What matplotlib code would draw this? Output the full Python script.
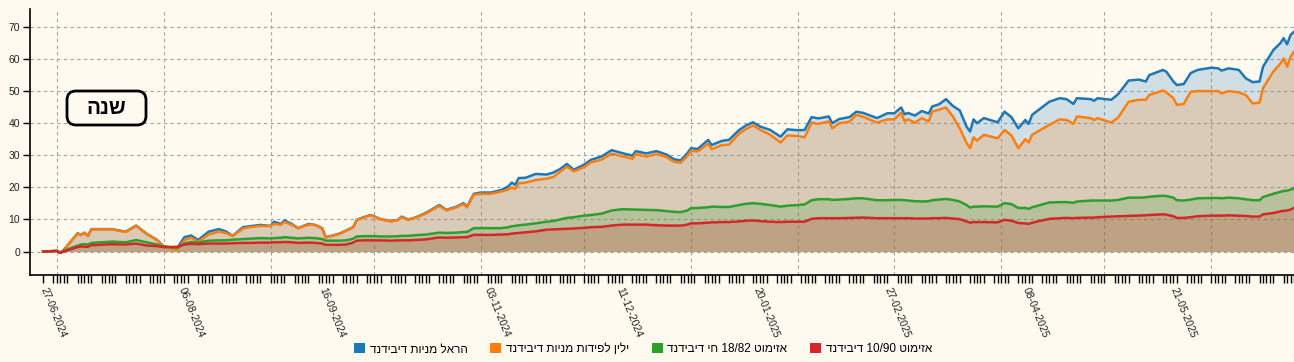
import matplotlib
matplotlib.use('Agg')
import matplotlib.pyplot as plt
import matplotlib.patches as mpatches
import matplotlib.dates as mdates
from matplotlib.ticker import FixedLocator
from matplotlib.transforms import IdentityTransform
import pandas as pd

plt.rcParams['font.family'] = ['Liberation Sans', 'DejaVu Sans']

# ---------------- data ----------------
dates = [
    "2024-06-27", "2024-07-01", "2024-07-02", "2024-07-03", "2024-07-07", "2024-07-08", "2024-07-09", "2024-07-10", "2024-07-11", "2024-07-17",
    "2024-07-21", "2024-07-24", "2024-07-27", "2024-07-30", "2024-08-01", "2024-08-03", "2024-08-05", "2024-08-07", "2024-08-09", "2024-08-11",
    "2024-08-14", "2024-08-17", "2024-08-19", "2024-08-21", "2024-08-24", "2024-08-26", "2024-08-29", "2024-09-01", "2024-09-02", "2024-09-04",
    "2024-09-05", "2024-09-07", "2024-09-09", "2024-09-12", "2024-09-14", "2024-09-16", "2024-09-17", "2024-09-19", "2024-09-21", "2024-09-23",
    "2024-09-25", "2024-09-26", "2024-09-28", "2024-09-30", "2024-10-01", "2024-10-03", "2024-10-06", "2024-10-08", "2024-10-09", "2024-10-11",
    "2024-10-13", "2024-10-16", "2024-10-20", "2024-10-22", "2024-10-25", "2024-10-27", "2024-10-28", "2024-10-30", "2024-11-01", "2024-11-04",
    "2024-11-07", "2024-11-09", "2024-11-10", "2024-11-11", "2024-11-12", "2024-11-14", "2024-11-17", "2024-11-20", "2024-11-22", "2024-11-24",
    "2024-11-26", "2024-11-28", "2024-12-01", "2024-12-03", "2024-12-06", "2024-12-09", "2024-12-12", "2024-12-15", "2024-12-16", "2024-12-19",
    "2024-12-22", "2024-12-25", "2024-12-27", "2024-12-29", "2024-12-31", "2025-01-01", "2025-01-03", "2025-01-06", "2025-01-07", "2025-01-10",
    "2025-01-12", "2025-01-15", "2025-01-17", "2025-01-19", "2025-01-21", "2025-01-24", "2025-01-27", "2025-01-29", "2025-02-01", "2025-02-03",
    "2025-02-05", "2025-02-07", "2025-02-10", "2025-02-11", "2025-02-13", "2025-02-16", "2025-02-18", "2025-02-20", "2025-02-24", "2025-02-27",
    "2025-03-01", "2025-03-03", "2025-03-04", "2025-03-05", "2025-03-07", "2025-03-09", "2025-03-11", "2025-03-12", "2025-03-14", "2025-03-16",
    "2025-03-18", "2025-03-20", "2025-03-22", "2025-03-23", "2025-03-24", "2025-03-25", "2025-03-27", "2025-03-31", "2025-04-02", "2025-04-04",
    "2025-04-06", "2025-04-08", "2025-04-09", "2025-04-10", "2025-04-15", "2025-04-18", "2025-04-20", "2025-04-22", "2025-04-23", "2025-04-27",
    "2025-04-28", "2025-04-29", "2025-05-03", "2025-05-05", "2025-05-08", "2025-05-11", "2025-05-13", "2025-05-14", "2025-05-18", "2025-05-19",
    "2025-05-21", "2025-05-22", "2025-05-24", "2025-05-26", "2025-05-28", "2025-06-01", "2025-06-03", "2025-06-04", "2025-06-06", "2025-06-09",
    "2025-06-11", "2025-06-13", "2025-06-15", "2025-06-16", "2025-06-19", "2025-06-21", "2025-06-22", "2025-06-23", "2025-06-24", "2025-06-25",
]

harel = [
    0, 0.2, -0.4, 0.5, 5.7, 5.2, 5.9, 4.9, 7.0, 7.0,
    6.2, 8.1, 5.6, 3.7, 1.6, 1.3, 1.2, 4.5, 5.0, 3.6,
    6.2, 7.0, 6.3, 4.9, 7.6, 7.9, 8.3, 8.0, 9.3, 8.6,
    9.7, 8.7, 7.3, 8.6, 8.3, 7.3, 4.5, 5.0, 5.6, 6.6,
    7.6, 9.9, 10.7, 11.4, 11.0, 10.1, 9.5, 9.9, 10.9, 10.0,
    10.6, 12.0, 14.5, 13.0, 14.0, 15.1, 14.0, 18.0, 18.4, 18.4,
    19.2, 20.3, 21.5, 20.8, 22.9, 23.0, 24.2, 24.0, 24.6, 25.7,
    27.3, 25.5, 27.1, 28.6, 29.6, 31.6, 30.7, 29.9, 31.3, 30.6,
    31.3, 30.2, 28.8, 28.4, 30.7, 32.2, 32.0, 34.8, 33.2, 34.5,
    34.8, 37.9, 39.3, 40.3, 39.0, 37.9, 35.8, 38.1, 37.8, 37.9,
    41.9, 41.5, 42.1, 40.0, 41.3, 41.9, 43.6, 43.2, 41.6, 43.1,
    43.1, 44.9, 42.8, 43.2, 42.4, 43.8, 43.0, 45.2, 45.9, 47.5,
    45.4, 44.0, 38.9, 37.4, 41.2, 40.0, 41.6, 40.3, 43.6, 41.9,
    38.4, 41.0, 39.8, 42.6, 46.7, 47.8, 47.5, 46.0, 47.8, 47.5,
    47.0, 47.8, 47.3, 49.1, 53.3, 53.6, 53.0, 55.0, 56.6, 56.0,
    53.0, 51.9, 52.2, 55.6, 56.6, 57.3, 57.1, 56.4, 57.1, 56.6,
    54.0, 52.8, 53.0, 57.6, 62.8, 64.9, 66.5, 64.6, 67.5, 68.5,
]

yelin = [
    0, 0.2, -0.4, 0.5, 5.6, 5.1, 5.8, 4.8, 6.9, 6.9,
    6.1, 8.0, 5.5, 3.6, 1.5, 1.0, 0.5, 3.5, 4.3, 3.0,
    5.3, 6.2, 5.8, 4.8, 7.2, 7.6, 8.0, 7.9, 8.6, 8.3,
    9.2, 8.4, 7.2, 8.4, 8.2, 7.2, 4.4, 4.9, 5.5, 6.5,
    7.5, 9.8, 10.6, 11.3, 10.9, 10.0, 9.4, 9.8, 10.7, 9.9,
    10.5, 11.8, 14.2, 12.8, 13.8, 14.8, 13.8, 17.7, 18.0, 18.0,
    18.7, 19.3, 20.0, 19.5, 21.3, 21.5, 22.3, 22.7, 23.2, 24.8,
    26.5, 25.0, 26.3, 27.8, 28.6, 30.5, 29.7, 28.9, 30.4, 29.6,
    30.4, 29.4, 28.0, 27.7, 29.8, 31.4, 31.2, 33.6, 31.9, 33.2,
    33.3, 36.8, 38.2, 39.3, 38.0, 36.4, 34.0, 36.2, 36.0, 35.6,
    40.2, 39.8, 40.6, 38.4, 40.0, 40.5, 42.6, 42.0, 40.2, 41.2,
    41.2, 43.3, 40.6, 41.2, 40.2, 41.6, 40.5, 43.6, 44.2, 44.9,
    42.1, 38.4, 33.8, 32.2, 35.6, 34.6, 36.4, 35.3, 37.9, 36.2,
    32.2, 35.0, 34.0, 36.4, 39.5, 41.2, 41.0, 39.8, 42.1, 41.6,
    41.0, 41.6, 40.2, 41.8, 46.7, 47.3, 47.3, 48.8, 50.2, 49.6,
    47.8, 45.7, 46.0, 49.8, 50.0, 50.0, 50.0, 49.3, 50.0, 49.6,
    48.8, 46.2, 46.4, 50.9, 56.1, 58.5, 60.2, 57.6, 60.7, 62.3,
]

azimut_18_82 = [
    0, 0.2, -0.3, 0.3, 1.8, 2.2, 2.3, 2.2, 2.7, 3.1,
    2.9, 3.6, 2.9, 2.2, 1.6, 1.4, 1.2, 2.5, 3.0, 2.8,
    3.4, 3.5, 3.5, 3.7, 3.9, 4.0, 4.2, 4.1, 4.2, 4.3,
    4.5, 4.3, 4.1, 4.3, 4.2, 3.9, 3.4, 3.4, 3.4, 3.5,
    4.0, 4.7, 4.8, 4.8, 4.8, 4.7, 4.7, 4.8, 4.9, 4.9,
    5.1, 5.3, 5.9, 5.8, 5.9, 6.1, 6.1, 7.3, 7.3, 7.3,
    7.3, 7.6, 7.9, 8.0, 8.2, 8.4, 8.8, 9.3, 9.5, 10.0,
    10.5, 10.7, 11.2, 11.4, 11.8, 12.8, 13.2, 13.1, 13.1, 13.0,
    12.9, 12.6, 12.4, 12.3, 12.8, 13.5, 13.6, 13.8, 14.0, 13.9,
    13.9, 14.5, 14.9, 15.1, 14.9, 14.5, 14.0, 14.3, 14.5, 14.7,
    16.0, 16.3, 16.3, 16.1, 16.2, 16.4, 16.6, 16.6, 16.0, 16.0,
    16.1, 16.1, 16.0, 15.9, 15.7, 15.6, 15.7, 16.0, 16.2, 16.4,
    16.1, 15.6, 14.5, 13.7, 14.0, 14.0, 14.1, 14.0, 15.1, 14.8,
    13.6, 13.6, 13.3, 13.8, 15.3, 15.4, 15.4, 15.2, 15.6, 15.9,
    15.9, 15.9, 15.9, 16.1, 16.8, 16.8, 16.9, 17.1, 17.4, 17.3,
    16.8, 16.0, 15.9, 16.2, 16.6, 16.7, 16.7, 16.6, 16.8, 16.6,
    16.3, 16.0, 16.0, 17.0, 18.0, 18.6, 18.9, 19.0, 19.3, 19.7,
]

azimut_10_90 = [
    0, 0.2, -0.4, 0.0, 1.4, 1.6, 1.5, 1.5, 2.0, 2.3,
    2.2, 2.5, 1.9, 1.7, 1.4, 1.4, 1.5, 2.2, 2.4, 2.3,
    2.5, 2.5, 2.5, 2.6, 2.7, 2.7, 2.8, 2.8, 2.9, 2.9,
    3.0, 2.9, 2.7, 2.8, 2.7, 2.5, 2.1, 2.1, 2.1, 2.2,
    2.8, 3.4, 3.5, 3.5, 3.5, 3.5, 3.4, 3.5, 3.5, 3.5,
    3.6, 3.8, 4.4, 4.3, 4.4, 4.5, 4.5, 5.2, 5.2, 5.2,
    5.3, 5.4, 5.6, 5.7, 5.8, 6.0, 6.3, 6.8, 6.9, 7.0,
    7.1, 7.2, 7.4, 7.6, 7.7, 8.1, 8.4, 8.4, 8.4, 8.4,
    8.2, 8.1, 8.1, 8.1, 8.4, 8.8, 8.8, 9.0, 9.1, 9.2,
    9.2, 9.4, 9.6, 9.7, 9.5, 9.3, 9.2, 9.3, 9.3, 9.3,
    10.2, 10.4, 10.4, 10.4, 10.4, 10.5, 10.6, 10.6, 10.4, 10.4,
    10.4, 10.4, 10.4, 10.4, 10.3, 10.3, 10.3, 10.4, 10.4, 10.5,
    10.3, 10.1, 9.4, 9.0, 9.2, 9.2, 9.2, 9.1, 9.9, 9.6,
    8.9, 8.8, 8.6, 9.0, 10.2, 10.4, 10.5, 10.4, 10.5, 10.6,
    10.6, 10.7, 10.9, 11.0, 11.1, 11.2, 11.3, 11.4, 11.6, 11.5,
    11.0, 10.5, 10.5, 10.7, 11.0, 11.2, 11.2, 11.2, 11.3, 11.2,
    11.1, 10.9, 10.9, 11.6, 12.0, 12.5, 12.7, 12.8, 13.1, 13.6,
]

series_labels = [
    "הראל מניות דיבידנד",
    "ילין לפידות מניות דיבידנד",
    "אזימוט 18/82 חי דיבידנד",
    "אזימוט 10/90 דיבידנד",
]
series_colors = ["#1f77b4", "#ff7f0e", "#2ca02c", "#d62728"]

x_tick_labels = ["27-06-2024", "06-08-2024", "16-09-2024", "03-11-2024", "11-12-2024",
                 "20-01-2025", "27-02-2025", "08-04-2025", "21-05-2025"]
y_ticks = [0, 10, 20, 30, 40, 50, 60, 70]
badge_text = "שנה"

for arr in (harel, yelin, azimut_18_82, azimut_10_90):
    assert len(arr) == len(dates)


def visual(s):
    """Reorder logical Hebrew text into left-to-right visual order."""
    def heb(t):
        return any('\u0590' <= c <= '\u05ff' for c in t)
    return ' '.join(t[::-1] if heb(t) else t for t in reversed(s.split(' ')))


# ---------------- figure ----------------
BG = '#fefaf0'
W, H = 1294, 362
fig = plt.figure(figsize=(W / 100, H / 100), dpi=100, facecolor=BG)
ax = fig.add_axes([30 / W, 1 - 275 / H, 1 - 30 / W, (275 - 9.3) / H])
ax.set_facecolor(BG)

x = pd.to_datetime(dates)
series = [harel, yelin, azimut_18_82, azimut_10_90]

for y, c in zip(series, series_colors):
    ax.fill_between(x, 0, y, color=c, alpha=0.2, linewidth=0, zorder=2)
for y, c in zip(series, series_colors):
    ax.plot(x, y, color=c, lw=1.8, zorder=3, solid_joinstyle='round')

# axes limits
start = pd.Timestamp(dates[0])
ax.set_xlim(start - pd.Timedelta(days=3.8), pd.Timestamp(dates[-1]))
ax.set_ylim(-7.3, 75.5)

# grid
grid_kw = dict(color='#a3a3a3', lw=0.8, ls=(0, (3, 3)))
ax.set_axisbelow(True)
ax.yaxis.grid(True, **grid_kw)
for m in pd.date_range('2024-07-01', dates[-1], freq='MS'):
    ax.axvline(m, zorder=1, **grid_kw)

# ticks
ax.set_yticks(y_ticks)
ax.tick_params(axis='y', length=5, width=1, labelsize=7.5, labelcolor='#222', pad=2)

tick_dates = pd.to_datetime(x_tick_labels, format='%d-%m-%Y')
ax.set_xticks(tick_dates)
ax.set_xticklabels(x_tick_labels, rotation=-68, ha='left', va='center',
                   rotation_mode='anchor', fontsize=7.5, color='#222')
trading_days = pd.bdate_range(dates[0], dates[-1], freq='C',
                              weekmask='Sun Mon Tue Wed Thu')
ax.xaxis.set_minor_locator(FixedLocator(mdates.date2num(trading_days)))
ax.tick_params(axis='x', which='both', length=6, width=1, pad=3)

for s in ('top', 'right'):
    ax.spines[s].set_visible(False)
for s in ('left', 'bottom'):
    ax.spines[s].set_linewidth(1.2)

# legend
handles = [mpatches.Patch(facecolor=c, edgecolor='none', label=visual(l))
           for l, c in zip(series_labels, series_colors)]
fig.legend(handles=handles, loc='center', bbox_to_anchor=(643 / W, 1 - 349 / H),
           ncol=4, frameon=False, fontsize=8.5, handlelength=0.95, handleheight=0.95,
           columnspacing=1.9, handletextpad=0.4, borderaxespad=0, borderpad=0)

# badge
badge = mpatches.FancyBboxPatch((67, H - 125), 79, 34,
                                boxstyle='round,pad=0,rounding_size=9',
                                transform=IdentityTransform(),
                                facecolor=BG, edgecolor='black', lw=2, zorder=10)
fig.add_artist(badge)
fig.text(106.5 / W, 1 - 108 / H, visual(badge_text), ha='center', va='center',
         fontsize=15, fontweight='bold', color='black', zorder=11)

fig.savefig('out.png', dpi=100, facecolor=BG)
